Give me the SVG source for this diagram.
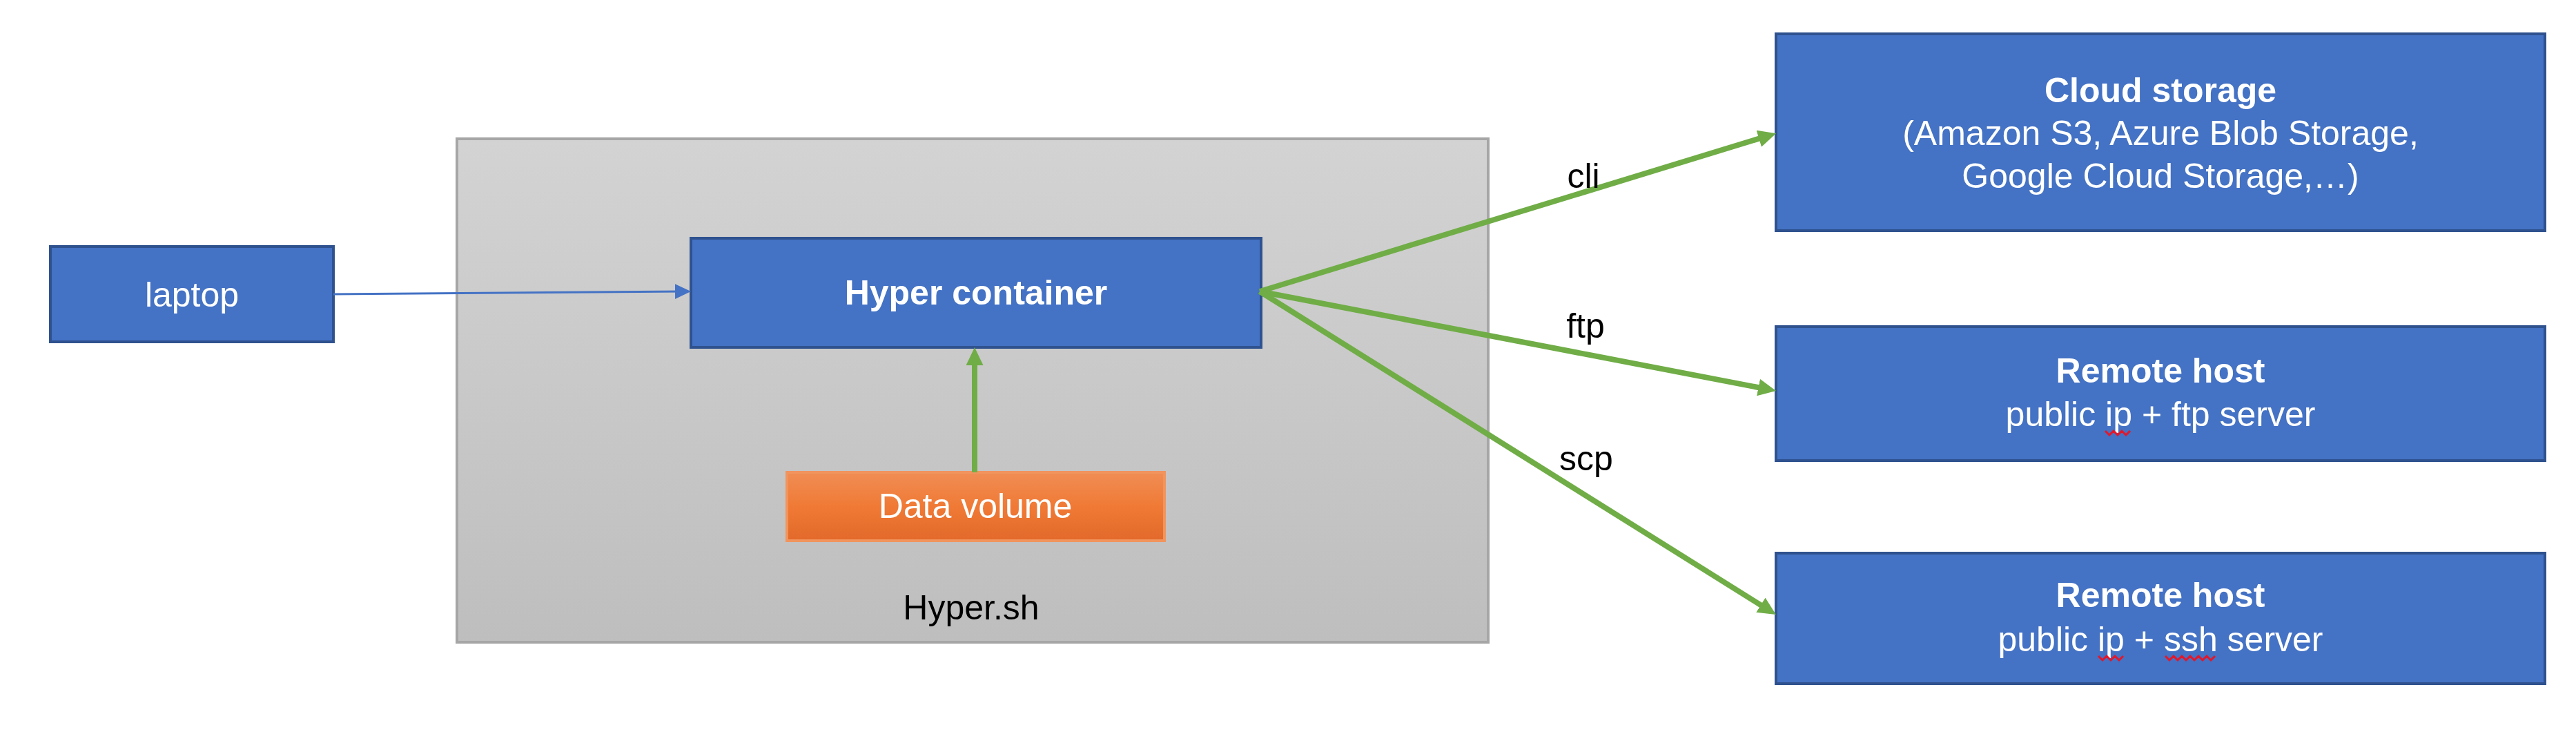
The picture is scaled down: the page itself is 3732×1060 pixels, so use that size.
<svg xmlns="http://www.w3.org/2000/svg" width="3732" height="1060" viewBox="0 0 3732 1060">
  <style>
    text { font-family: "Liberation Sans", Arial, Helvetica, sans-serif; font-size: 50px; }
    .w { fill: #ffffff; text-anchor: middle; }
    .b { font-weight: bold; }
    .k { fill: #000000; text-anchor: middle; }
    .blue { fill: #4472C4; stroke: #2F528F; stroke-width: 4; }
    .g { stroke: #70AD47; stroke-width: 8; fill: none; }
    .sq { stroke: #E3172A; stroke-width: 3; fill: none; }
  </style>
  <defs>
    <linearGradient id="gray" x1="0" y1="0" x2="0" y2="1">
      <stop offset="0" stop-color="#D3D3D3"/>
      <stop offset="1" stop-color="#BEBEBE"/>
    </linearGradient>
    <linearGradient id="orange" x1="0" y1="0" x2="0" y2="1">
      <stop offset="0" stop-color="#F08D55"/>
      <stop offset="0.5" stop-color="#F07A35"/>
      <stop offset="1" stop-color="#E2692A"/>
    </linearGradient>
    <marker id="ga" markerUnits="userSpaceOnUse" markerWidth="28" markerHeight="26" refX="6" refY="12.5" orient="auto">
      <path d="M0,0 L26,12.5 L0,25 z" fill="#70AD47"/>
    </marker>
    <marker id="ba" markerUnits="userSpaceOnUse" markerWidth="24" markerHeight="24" refX="11" refY="11" orient="auto">
      <path d="M0,0 L23,11 L0,22 z" fill="#4472C4"/>
    </marker>
  </defs>

  <g id="hyper-sh">
    <rect x="662" y="201" width="1494" height="729" fill="url(#gray)" stroke="#A6A6A6" stroke-width="4"/>
    <text class="k" x="1407" y="897">Hyper.sh</text>
  </g>

  <g id="laptop">
    <rect class="blue" x="73" y="357" width="410" height="138"/>
    <text class="w" x="278" y="444">laptop</text>
  </g>

  <g id="hyper-container">
    <rect class="blue" x="1001" y="345" width="826" height="158"/>
    <text class="w b" x="1414" y="441">Hyper container</text>
  </g>

  <g id="data-volume">
    <rect x="1140" y="684" width="547" height="99" fill="url(#orange)" stroke="#F1945E" stroke-width="4"/>
    <text class="w" x="1413" y="750">Data volume</text>
  </g>

  <g id="cloud-storage">
    <rect class="blue" x="2573" y="49" width="1114" height="285"/>
    <text class="w b" x="3130" y="148">Cloud storage</text>
    <text class="w" x="3130" y="210">(Amazon S3, Azure Blob Storage,</text>
    <text class="w" x="3130" y="272">Google Cloud Storage,…)</text>
  </g>

  <g id="remote-host-ftp">
    <rect class="blue" x="2573" y="473" width="1114" height="194"/>
    <text class="w b" x="3130" y="554">Remote host</text>
    <text class="w" x="3130" y="617">public ip + ftp server</text>
    <path class="sq" d="M3050,624 l6,6 l6,-6 l6,6 l6,-6 l6,6 l6,-6"/>
  </g>

  <g id="remote-host-ssh">
    <rect class="blue" x="2573" y="801" width="1114" height="189"/>
    <text class="w b" x="3130" y="879">Remote host</text>
    <text class="w" x="3130" y="943">public ip + ssh server</text>
    <path class="sq" d="M3040,950 l6,6 l6,-6 l6,6 l6,-6 l6,6 l6,-6"/>
    <path class="sq" d="M3137,950 l6,6 l6,-6 l6,6 l6,-6 l6,6 l6,-6 l6,6 l6,-6 l6,6 l6,-6 l6,6 l6,-6"/>
  </g>

  <g id="connectors">
    <line x1="483" y1="426" x2="989" y2="422" stroke="#4472C4" stroke-width="3" marker-end="url(#ba)"/>
    <line class="g" x1="1412" y1="684" x2="1412" y2="523" marker-end="url(#ga)"/>
    <line class="g" x1="1825" y1="422" x2="2554" y2="199" marker-end="url(#ga)"/>
    <line class="g" x1="1825" y1="422" x2="2553.4" y2="562.2" marker-end="url(#ga)"/>
    <line class="g" x1="1825" y1="422" x2="2556" y2="879.4" marker-end="url(#ga)"/>
    <text class="k" x="2294" y="272">cli</text>
    <text class="k" x="2297" y="489">ftp</text>
    <text class="k" x="2298" y="681">scp</text>
  </g>
</svg>
